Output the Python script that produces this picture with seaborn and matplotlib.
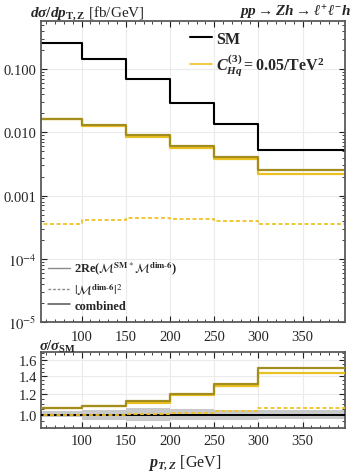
import numpy as np
import pandas as pd
import matplotlib
matplotlib.use("Agg")
import matplotlib.pyplot as plt
import seaborn as sns
from matplotlib.lines import Line2D
from matplotlib.ticker import FixedLocator, FixedFormatter, NullFormatter

# ---------------- data ----------------
bin_edges = [50, 100, 150, 200, 250, 300, 400]
sm = [0.259, 0.144, 0.0694, 0.0289, 0.0134, 0.00518]
interference = [0.0160, 0.0126, 0.0085, 0.0056, 0.0038, 0.0022]
square = [0.00035, 0.00041, 0.00044, 0.00043, 0.00039, 0.00035]
combined = [0.0163, 0.0132, 0.0090, 0.0061, 0.0041, 0.0025]

ratio_interference = [1.060, 1.075, 1.110, 1.190, 1.277, 1.430]
ratio_square = [1.001, 1.002, 1.004, 1.015, 1.032, 1.064]
ratio_combined = [1.061, 1.082, 1.124, 1.200, 1.306, 1.493]
band_lo = [0.980, 0.955, 0.945, 0.960, 0.955, 0.965]
band_hi = [1.030, 1.045, 1.060, 1.050, 1.045, 1.045]

x_ticks = [100, 150, 200, 250, 300, 350]
main_yticks = [1e-5, 1e-4, 1e-3, 1e-2, 1e-1]
main_yticklabels = ["$10^{-5}$", "$10^{-4}$", "0.001", "0.010", "0.100"]
ratio_yticks = [1.0, 1.2, 1.4, 1.6]
ratio_yticklabels = ["1.0", "1.2", "1.4", "1.6"]

# ---------------- style ----------------
sns.set_style("ticks")
plt.rcParams["font.family"] = ["Liberation Serif", "DejaVu Serif"]
plt.rcParams["mathtext.fontset"] = "stix"
plt.rcParams["mathtext.rm"] = "Liberation Serif:bold"
plt.rcParams["mathtext.it"] = "Liberation Serif:italic:bold"
plt.rcParams["mathtext.bf"] = "Liberation Serif:bold"
plt.rcParams["mathtext.sf"] = "Liberation Serif:bold"

C_SM = "#000000"
C_COMB = "#A38D1F"
C_INT = "#EBC023"
C_SQ = "#F0C22A"
SPINE = "#5a5a5a"
GRID = "#ebebeb"


def steps(vals):
    return pd.DataFrame({"x": bin_edges, "y": list(vals) + [vals[-1]]})


fig = plt.figure(figsize=(3.57, 4.77), dpi=100)
ax = fig.add_axes([0.1148, 0.3229, 0.8516, 0.6316])
axr = fig.add_axes([0.1148, 0.1006, 0.8516, 0.1594])

# ---------------- main panel ----------------
ax.set_yscale("log")
sns.lineplot(data=steps(square), x="x", y="y", ax=ax, color=C_SQ, lw=1.3,
             drawstyle="steps-post", estimator=None, sort=False,
             linestyle=(0, (2.2, 1.4)))
sns.lineplot(data=steps(interference), x="x", y="y", ax=ax, color=C_INT, lw=1.6,
             drawstyle="steps-post", estimator=None, sort=False)
sns.lineplot(data=steps(combined), x="x", y="y", ax=ax, color=C_COMB, lw=1.6,
             drawstyle="steps-post", estimator=None, sort=False)
sns.lineplot(data=steps(sm), x="x", y="y", ax=ax, color=C_SM, lw=1.5,
             drawstyle="steps-post", estimator=None, sort=False)

ax.set_xlim(54, 398)
ax.set_ylim(1e-5, 0.585)
ax.set_xlabel("")
ax.set_ylabel("")

# ---------------- ratio panel ----------------
axr.set_yscale("log")
axr.fill_between(bin_edges, band_lo + [band_lo[-1]], band_hi + [band_hi[-1]],
                 step="post", color="#c9c9c9", lw=0, zorder=1)
axr.axhline(1.0, color=C_SM, lw=1.4, zorder=3)
sns.lineplot(data=steps(ratio_square), x="x", y="y", ax=axr, color=C_SQ, lw=1.3,
             drawstyle="steps-post", estimator=None, sort=False,
             linestyle=(0, (2.2, 1.4)), zorder=4)
sns.lineplot(data=steps(ratio_interference), x="x", y="y", ax=axr, color=C_INT, lw=1.6,
             drawstyle="steps-post", estimator=None, sort=False, zorder=4)
sns.lineplot(data=steps(ratio_combined), x="x", y="y", ax=axr, color=C_COMB, lw=1.6,
             drawstyle="steps-post", estimator=None, sort=False, zorder=5)
axr.set_xlim(54, 398)
axr.set_ylim(0.893, 1.717)
axr.set_xlabel("")
axr.set_ylabel("")

# ---------------- ticks / grid / spines ----------------
for a in (ax, axr):
    a.xaxis.set_major_locator(FixedLocator(x_ticks))
    a.xaxis.set_minor_locator(FixedLocator(list(range(60, 400, 10))))
    a.grid(True, which="major", color=GRID, lw=0.8)
    a.set_axisbelow(True)
    for s in a.spines.values():
        s.set_color(SPINE)
        s.set_linewidth(1.3)
    a.tick_params(which="both", direction="in", top=True, right=True,
                  color="#222222", labelsize=10.5, pad=3)
    a.tick_params(which="major", length=4, width=0.8)
    a.tick_params(which="minor", length=2, width=0.6)
ax.tick_params(axis="x", which="major", pad=6)
axr.tick_params(axis="x", which="major", pad=4)

ax.yaxis.set_major_locator(FixedLocator(main_yticks))
ax.yaxis.set_major_formatter(FixedFormatter(main_yticklabels))
minors = [m * 10.0 ** e for e in range(-5, 0) for m in range(2, 10)]
ax.yaxis.set_minor_locator(FixedLocator(minors))
ax.yaxis.set_minor_formatter(NullFormatter())

axr.yaxis.set_major_locator(FixedLocator(ratio_yticks))
axr.yaxis.set_major_formatter(FixedFormatter(ratio_yticklabels))
axr.yaxis.set_minor_locator(FixedLocator([0.95, 1.05, 1.1, 1.15, 1.25, 1.3, 1.35,
                                          1.45, 1.5, 1.55, 1.65, 1.7]))
axr.yaxis.set_minor_formatter(NullFormatter())

# ---------------- texts ----------------
fig.text(30 / 357, 1 - 13 / 477,
         r"$d\sigma/dp_{\mathrm{T,Z}}$ [fb/GeV]", fontsize=11,
         ha="left", va="center", math_fontfamily="custom")
fig.text(351 / 357, 1 - 13 / 477,
         r"$pp\rightarrow Zh\rightarrow \ell^{+}\ell^{-}h$", fontsize=11,
         ha="right", va="center", math_fontfamily="custom")
fig.text(39 / 357, 1 - 347 / 477, r"$\sigma/\sigma_{\mathrm{SM}}$",
         fontsize=10.5, ha="left", va="center", math_fontfamily="custom")
fig.text(185 / 357, 1 - 463 / 477, r"$p_{T,Z}$ [GeV]", fontsize=11.5,
         ha="center", va="center", math_fontfamily="custom")

# legend 1 (top right)
h1 = [Line2D([], [], color=C_SM, lw=1.5), Line2D([], [], color=C_INT, lw=1.2)]
l1 = ["SM", r"$C_{Hq}^{(3)} = 0.05/\mathrm{TeV}^{2}$"]
leg1 = ax.legend(h1, l1, loc="upper left", bbox_to_anchor=(190 / 357, 1 - 32 / 477),
                 bbox_transform=fig.transFigure, frameon=False,
                 prop={"family": "Liberation Serif", "weight": "bold", "size": 11.5},
                 handlelength=1.35, handletextpad=0.3, labelspacing=0.28,
                 borderpad=0, borderaxespad=0)
for t in leg1.get_texts():
    t.set_math_fontfamily("custom")
ax.add_artist(leg1)

# legend 2 (bottom left)
h2 = [Line2D([], [], color="#8a8a8a", lw=1.0),
      Line2D([], [], color="#8a8a8a", lw=1.0, ls=(0, (2, 1.3))),
      Line2D([], [], color="#555555", lw=1.1)]
l2 = [r"2Re($\mathcal{M}^{\mathbf{SM}*}\mathcal{M}^{\mathbf{dim}\text{-}\mathbf{6}}$)",
      r"$|\mathcal{M}^{\mathbf{dim}\text{-}\mathbf{6}}|^{2}$",
      "combined"]
leg2 = ax.legend(h2, l2, loc="upper left", bbox_to_anchor=(48 / 357, 1 - 260 / 477),
                 bbox_transform=fig.transFigure, frameon=False,
                 prop={"family": "Liberation Serif", "weight": "bold", "size": 9},
                 handlelength=1.75, handletextpad=0.35, labelspacing=0.22,
                 borderpad=0, borderaxespad=0)

fig.savefig("out.png", dpi=100)
